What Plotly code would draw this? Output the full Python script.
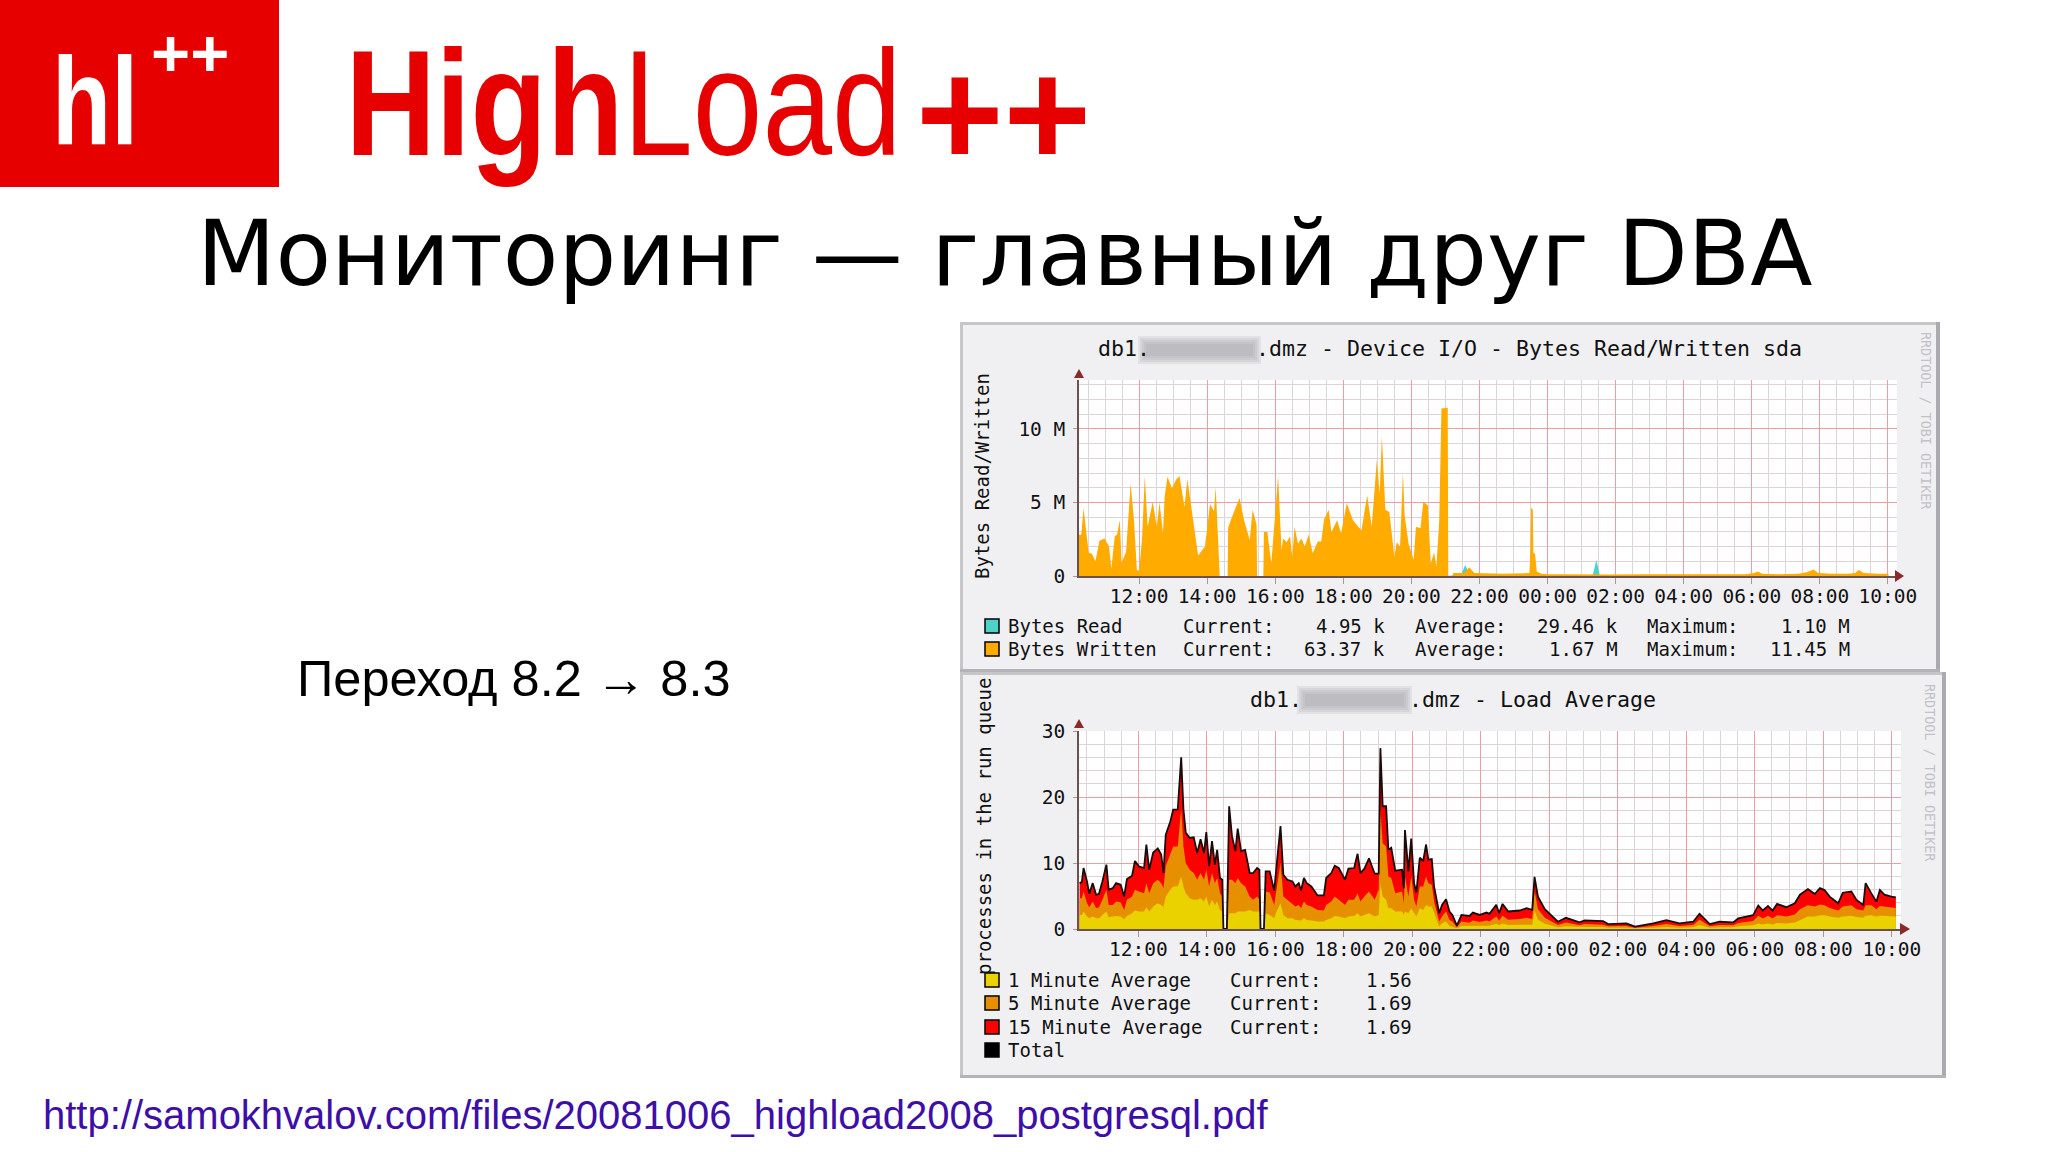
"""Slide: HighLoad++ monitoring slide with two rrdtool graphs (Device I/O, Load Average)."""

import pandas as pd
import plotly.graph_objects as go

W, H = 2048, 1152
BASE = pd.Timestamp("2008-10-05 12:00")
MONO = "DejaVu Sans Mono"

# ---------------------------------------------------------------------------
# Data: times are minutes after 12:00, written/read in M, load in run queue
# ---------------------------------------------------------------------------
WRITE_MIN = [
    -106, -102, -98, -93, -89, -83, -77, -70, -61, -53, -49, -43, -39, -34, -31, -23, -15, -9, -4, 0,
    5, 10, 15, 24, 31, 36, 42, 45, 50, 58, 65, 71, 80, 85, 95, 104, 116, 125, 132, 135,
    140, 142, 156, 157, 166, 177, 185, 195, 200, 207, 208, 219, 220, 226, 233, 239, 245, 251, 254, 260,
    266, 270, 274, 280, 286, 292, 299, 306, 315, 321, 326, 334, 339, 349, 356, 366, 377, 392, 402, 410,
    419, 424, 428, 434, 441, 450, 454, 460, 465, 468, 475, 484, 488, 496, 501, 509, 514, 520, 524, 529,
    533, 544, 545, 552, 554, 573, 582, 591, 640, 688, 689, 691, 694, 695, 698, 701, 709, 720, 777, 835,
    894, 952, 1011, 1069, 1084, 1091, 1098, 1128, 1163, 1177, 1189, 1197, 1221, 1250, 1262, 1269, 1277, 1303, 1321,
]
WRITE_M = [
    2.8, 2.8, 4.6, 2.7, 1.6, 1.5, 1.0, 2.4, 2.55, 2.0, 0.5, 2.7, 2.8, 3.8, 0.9, 1.65, 6.25, 3.8, 0.4, 0.35,
    2.45, 6.8, 3.35, 5.05, 3.35, 5.0, 2.9, 5.4, 6.75, 5.95, 6.55, 6.8, 4.7, 6.6, 4.0, 1.4, 2.0, 4.9, 4.4, 6.05,
    1.8, 0, 0, 3.3, 4.25, 5.3, 3.8, 2.45, 4.5, 3.5, 0, 0, 3.0, 3.0, 0.85, 3.7, 6.8, 1.75, 2.55, 2.3,
    2.7, 1.3, 3.35, 2.2, 2.55, 2.0, 2.8, 1.55, 2.35, 2.35, 3.85, 4.5, 3.0, 3.8, 2.9, 4.95, 3.8, 3.1, 5.5, 3.35,
    7.9, 5.6, 9.5, 4.5, 4.35, 1.3, 2.3, 2.0, 7.0, 4.15, 2.2, 1.1, 3.35, 3.25, 5.05, 4.8, 0.85, 1.6, 0.65, 3.7,
    11.4, 11.45, 0, 0, 0.2, 0.2, 0.6, 0.2, 0.15, 0.2, 1.0, 4.65, 4.5, 1.6, 1.5, 0.3, 0.15, 0.12, 0.1, 0.1,
    0.12, 0.1, 0.12, 0.12, 0.2, 0.3, 0.15, 0.12, 0.15, 0.25, 0.45, 0.2, 0.15, 0.15, 0.2, 0.4, 0.2, 0.15, 0.15,
]
READ_MIN = [544, 552, 567, 575, 583, 795, 800, 806, 812, 1321]
READ_M = [0.02, 0.03, 0.05, 0.75, 0.05, 0.03, 0.1, 1.1, 0.03, 0.02]

LOAD_MIN = [
    -103, -99, -96, -90, -86, -80, -74, -69, -63, -56, -52, -45, -39, -31, -25, -20, -11, -6, 1, 10,
    14, 19, 26, 34, 40, 44, 48, 56, 61, 69, 75, 79, 83, 90, 97, 103, 109, 115, 119, 124,
    129, 134, 138, 143, 147, 149, 155, 159, 164, 170, 174, 180, 187, 195, 201, 208, 212, 214, 220, 223,
    230, 238, 242, 249, 254, 261, 270, 275, 281, 285, 290, 295, 303, 314, 325, 329, 338, 344, 351, 362,
    368, 378, 384, 389, 396, 404, 414, 421, 424, 428, 434, 438, 443, 450, 462, 465, 467, 473, 478, 483,
    487, 493, 499, 504, 508, 514, 518, 527, 532, 539, 545, 550, 558, 566, 580, 586, 598, 610, 615, 627,
    632, 638, 648, 668, 680, 690, 694, 700, 712, 729, 735, 749, 773, 782, 814, 823, 855, 870, 902, 925,
    948, 972, 983, 1001, 1018, 1042, 1051, 1077, 1086, 1094, 1103, 1111, 1119, 1135, 1150, 1159, 1173, 1185, 1194, 1202,
    1211, 1226, 1234, 1249, 1258, 1270, 1274, 1284, 1293, 1299, 1307, 1319, 1327,
]
LOAD_TOTAL = [
    6.95, 7.1, 9.24, 7.2, 5.33, 6.95, 5.18, 5.33, 7.2, 9.75, 5.94, 6.19, 6.95, 6.7, 4.92, 7.56, 8.07, 10.3, 9.49, 9.24,
    12.8, 8.98, 11.6, 12.2, 11.3, 8.48, 14.3, 16.3, 18.1, 18.1, 26.0, 18.1, 14.6, 13.8, 13.9, 11.5, 13.6, 11.5, 14.7, 9.49,
    13.3, 9.75, 12.0, 7.72, 7.46, 0, 0, 18.6, 14.06, 11.8, 15.2, 11.8, 12.0, 8.48, 8.48, 9.24, 8.98, 0, 0, 8.73,
    8.73, 5.79, 9.49, 15.6, 8.22, 7.46, 7.2, 6.45, 6.95, 5.84, 7.72, 6.95, 6.45, 5.08, 5.08, 7.72, 8.48, 9.59, 9.24, 7.46,
    9.14, 9.24, 11.4, 8.48, 9.14, 10.7, 8.38, 8.38, 27.4, 18.6, 18.6, 12.0, 12.3, 8.83, 8.98, 6.19, 15.0, 8.73, 13.7, 6.95,
    5.53, 10.8, 10.3, 12.8, 10.5, 10.6, 6.45, 2.39, 3.65, 4.52, 2.64, 2.13, 0.51, 2.13, 1.98, 2.49, 2.13, 2.49, 2.29, 3.65,
    2.39, 3.8, 2.65, 2.8, 3.15, 2.9, 7.9, 4.9, 3.0, 1.6, 1.1, 1.7, 1.0, 1.3, 1.2, 0.75, 0.85, 0.35, 0.85, 1.35,
    0.85, 1.1, 2.3, 0.75, 1.1, 1.0, 1.6, 2.1, 3.55, 2.8, 3.5, 2.8, 3.8, 3.3, 3.9, 5.2, 6.05, 5.3, 6.2, 5.9,
    4.9, 3.9, 5.5, 5.7, 4.4, 3.65, 6.95, 5.4, 4.15, 5.9, 5.2, 4.9, 4.8,
]
LOAD_5_TOP = [
    4.67, 4.67, 5.69, 3.9, 3.3, 4.16, 3.15, 3.3, 4.42, 5.94, 3.65, 3.65, 4.16, 4.0, 2.89, 4.42, 4.92, 5.94, 5.69, 5.43,
    6.95, 5.43, 6.95, 7.46, 6.95, 6.19, 9.49, 11.5, 12.5, 12.5, 18.1, 12.5, 10.0, 8.98, 8.48, 7.46, 8.48, 7.46, 8.98, 6.45,
    8.48, 6.95, 7.72, 5.43, 4.92, 0, 0, 7.46, 7.46, 6.95, 7.72, 6.95, 6.45, 4.92, 4.42, 4.92, 4.42, 0, 0, 5.69,
    5.53, 3.65, 6.19, 10.0, 4.92, 4.42, 3.9, 3.4, 3.65, 3.15, 4.16, 3.65, 3.4, 2.89, 2.79, 3.65, 4.16, 4.92, 4.42, 3.65,
    4.42, 4.42, 5.43, 4.16, 4.92, 5.69, 4.42, 5.94, 18.1, 13.0, 12.5, 7.97, 7.72, 5.43, 5.69, 3.91, 7.97, 4.92, 7.97, 4.42,
    3.4, 6.45, 6.45, 7.97, 6.95, 6.7, 4.16, 1.12, 1.88, 2.64, 1.37, 1.12, 0.25, 1.12, 0.96, 1.27, 1.07, 1.3, 1.15, 1.9,
    1.3, 2.0, 1.4, 1.5, 1.7, 1.5, 5.8, 3.0, 1.7, 0.9, 0.6, 1.0, 0.55, 0.75, 0.65, 0.4, 0.45, 0.2, 0.45, 0.75,
    0.45, 0.6, 1.4, 0.4, 0.6, 0.55, 0.9, 1.2, 2.0, 1.6, 2.0, 1.6, 2.1, 1.9, 2.2, 3.0, 3.6, 3.4, 3.7, 3.6,
    3.2, 2.8, 3.4, 3.6, 3.0, 2.8, 3.6, 3.6, 3.0, 3.5, 3.4, 3.2, 3.2,
]
LOAD_1_TOP = [
    2.13, 2.13, 2.64, 1.88, 1.62, 1.88, 1.62, 1.62, 2.13, 2.64, 1.78, 1.88, 1.98, 1.88, 1.47, 1.98, 2.39, 2.79, 2.64, 2.64,
    3.3, 2.64, 3.4, 3.91, 3.65, 3.3, 4.92, 5.94, 6.45, 6.45, 7.97, 6.45, 5.43, 4.67, 4.42, 4.42, 4.67, 4.16, 4.92, 3.4,
    4.42, 3.65, 4.16, 2.89, 2.64, 0, 0, 2.39, 2.39, 2.39, 2.64, 2.64, 2.64, 2.89, 2.64, 2.64, 2.64, 0, 0, 2.39,
    2.13, 1.62, 2.64, 3.91, 2.13, 1.62, 1.62, 1.37, 1.37, 1.27, 1.62, 1.37, 1.27, 1.12, 1.12, 1.37, 1.62, 1.98, 1.88, 1.62,
    1.88, 1.98, 2.39, 1.88, 2.13, 2.39, 1.88, 2.13, 6.95, 4.92, 4.42, 3.15, 3.15, 2.64, 2.64, 2.13, 2.64, 2.39, 3.15, 2.39,
    1.88, 3.15, 2.89, 3.65, 3.4, 3.4, 2.39, 0.36, 0.86, 1.12, 0.46, 0.36, 0.1, 0.46, 0.46, 0.56, 0.46, 0.56, 0.5, 0.8,
    0.55, 0.85, 0.6, 0.65, 0.7, 0.65, 2.8, 1.4, 0.8, 0.4, 0.25, 0.4, 0.25, 0.3, 0.3, 0.2, 0.2, 0.1, 0.2, 0.3,
    0.2, 0.25, 0.6, 0.2, 0.25, 0.25, 0.4, 0.55, 0.85, 0.7, 0.85, 0.7, 0.9, 0.85, 1.0, 1.4, 1.9, 1.9, 2.1, 2.1,
    1.9, 1.7, 1.9, 2.0, 1.8, 1.7, 2.0, 2.1, 1.9, 2.0, 2.0, 1.9, 1.9,
]

X_TICK_START = "2008-10-05 12:00"
IO_TICKS = [0, 5, 10]
IO_TICK_TEXT = ["0", "5 M", "10 M"]
LOAD_TICKS = [0, 10, 20, 30]

IO_LEGEND = [
    ("Bytes Read", "#4CD2C8", "4.95 k", "29.46 k", "1.10 M"),
    ("Bytes Written", "#FFAB00", "63.37 k", "1.67 M", "11.45 M"),
]
LOAD_LEGEND = [
    ("1 Minute Average", "#EAD200", "1.56"),
    ("5 Minute Average", "#E69000", "1.69"),
    ("15 Minute Average", "#FF0000", "1.69"),
    ("Total", "#000000", None),
]

# ---------------------------------------------------------------------------
# Pixel helpers
# ---------------------------------------------------------------------------
MAJOR_GRID = "#EE9CA6"
MINOR_GRID = "#DDD3D8"
AXIS_COLOR = "#6A5252"
ARROW_COLOR = "#8A2A2A"
LOGO_RED = "#E60000"

# Squeeze the logo words: no narrow font is installed
NARROW_TEXT = """
var widths = {'HighLoad': 556, 'hl': 86};
document.querySelectorAll('text.annotation-text').forEach(function (t) {
    if (widths[t.textContent]) {
        t.setAttribute('textLength', widths[t.textContent]);
        t.setAttribute('lengthAdjust', 'spacingAndGlyphs');
    }
});
document.body.style.margin = '0';
"""


def px(x):
    return x / W


def py(y):
    return 1 - y / H


def times(minutes):
    return [(BASE + pd.Timedelta(minutes=m)).strftime("%Y-%m-%d %H:%M:%S") for m in minutes]


annotations = []
shapes = []


def label(x, y, text, size=19, color="#111111", family=MONO, anchor="left", angle=0):
    annotations.append(dict(
        x=px(x), y=py(y), xref="paper", yref="paper", text=text, showarrow=False,
        xanchor=anchor, yanchor="middle", textangle=angle, borderpad=0,
        font=dict(size=size, color=color, family=family),
    ))


def box(x0, y0, x1, y1, fill, line=None, line_width=0):
    shapes.append(dict(
        type="rect", xref="paper", yref="paper", layer="below",
        x0=px(x0), x1=px(x1), y0=py(y1), y1=py(y0), fillcolor=fill,
        line=dict(color=line or fill, width=line_width),
    ))


def triangle(points):
    path = "M " + " L ".join(f"{px(x)} {py(y)}" for x, y in points) + " Z"
    shapes.append(dict(type="path", xref="paper", yref="paper", path=path,
                       fillcolor=ARROW_COLOR, line=dict(width=0)))


def panel(x0, y0, x1, y1):
    box(x0, y0, x1, y1, "#F0F0F3")
    box(x0, y0, x1, y0 + 3, "#C6C6C8")
    box(x0, y0, x0 + 3, y1, "#C6C6C8")
    box(x1 - 4, y0, x1, y1, "#ABABAF")
    box(x0, y1 - 3, x1, y1, "#B4B4B8")


def blur_blob(x0, y0, x1, y1):
    for inset in (0, 2, 4, 6, 8):
        box(x0 + inset, y0 + inset, x1 - inset, y1 - inset, "rgba(150,150,155,0.15)")


def x_axis(domain, anchor, minutes_range):
    return dict(
        domain=domain, anchor=anchor, type="date", range=times(minutes_range), automargin=False,
        tick0=X_TICK_START, dtick=7200000, tickformat="%H:%M", tickangle=0,
        showgrid=True, gridcolor=MAJOR_GRID, gridwidth=1,
        minor=dict(dtick=1800000, tick0=X_TICK_START, showgrid=True, gridcolor=MINOR_GRID, gridwidth=1),
        ticks="outside", ticklen=6, tickcolor="#A89898",
        tickfont=dict(family=MONO, size=19.5, color="#111111"),
        ticklabelstandoff=-4,
        showline=True, linecolor=AXIS_COLOR, linewidth=1.5, zeroline=False,
    )


def y_axis(domain, anchor, top, tickvals, ticktext, minor_step):
    return dict(
        domain=domain, anchor=anchor, range=[0, top], tickmode="array", automargin=False,
        tickvals=tickvals, ticktext=ticktext,
        showgrid=True, gridcolor=MAJOR_GRID, gridwidth=1,
        minor=dict(dtick=minor_step, tick0=0, showgrid=True, gridcolor=MINOR_GRID, gridwidth=1),
        ticks="outside", ticklen=4, tickcolor="#A89898",
        tickfont=dict(family=MONO, size=19.5, color="#111111"),
        ticklabelstandoff=4,
        showline=True, linecolor=AXIS_COLOR, linewidth=1.5, zeroline=False,
    )


fig = go.Figure()

# ---------------------------------------------------------------------------
# Slide furniture
# ---------------------------------------------------------------------------
box(0, 0, 279, 187, LOGO_RED)
panel(960, 322, 1940, 672)
panel(960, 672, 1946, 1078)
box(1079, 380, 1897, 576, "#FFFFFF")
box(1079, 731, 1901, 929, "#FFFFFF")
blur_blob(1138, 336, 1261, 364)
blur_blob(1297, 686, 1412, 714)

label(95, 101, "<b>hl</b>", size=124, color="#FFFFFF", family="Liberation Sans", anchor="center")
label(150, 53, "<b>++</b>", size=67, color="#FFFFFF", family="Liberation Sans")
label(623, 103, "<b>High</b>Load", size=150, color=LOGO_RED, family="Liberation Sans", anchor="center")
label(915, 114, "<b>++</b>", size=150, color=LOGO_RED, family="Liberation Sans")
label(1004, 253, "Мониторинг — главный друг DBA", size=91, color="#000000", family="DejaVu Sans", anchor="center")
label(514, 678, "Переход 8.2 → 8.3", size=50.5, color="#000000", family="Liberation Sans", anchor="center")
label(42, 1115, "http://samokhvalov.com/files/20081006_highload2008_postgresql.pdf",
      size=40, color="#3D0EA8", family="Liberation Sans")

# ---------------------------------------------------------------------------
# Device I/O graph
# ---------------------------------------------------------------------------
fig.add_trace(go.Scatter(
    x=times(READ_MIN), y=READ_M, mode="lines", fill="tozeroy",
    line=dict(width=0), fillcolor="#4CD2C8", xaxis="x", yaxis="y", hoverinfo="skip",
))
fig.add_trace(go.Scatter(
    x=times(WRITE_MIN), y=WRITE_M, mode="lines", fill="tozeroy",
    line=dict(width=0), fillcolor="#FFAB00", xaxis="x", yaxis="y", hoverinfo="skip",
))
label(1097, 349, "db1.", size=21.6)
label(1255, 349, ".dmz - Device I/O - Bytes Read/Written sda", size=21.6)
label(982, 476, "Bytes Read/Written", size=19, anchor="center", angle=-90)
label(1925, 421, "RRDTOOL / TOBI OETIKER", size=13.4, color="#C2C2C6", anchor="center", angle=90)
triangle([(1074, 378), (1084, 378), (1079, 369)])
triangle([(1895, 570), (1895, 582), (1904, 576)])

for row, (name, color, cur, avg, peak) in zip((626, 649), IO_LEGEND):
    box(985, row - 7, 999, row + 7, color, "#000000", 1.5)
    label(1007, row, name)
    label(1182, row, "Current:")
    label(1386, row, cur, anchor="right")
    label(1414, row, "Average:")
    label(1619, row, avg, anchor="right")
    label(1646, row, "Maximum:")
    label(1851, row, peak, anchor="right")

# ---------------------------------------------------------------------------
# Load Average graph
# ---------------------------------------------------------------------------
for top, color in ((LOAD_TOTAL, "#FF0000"), (LOAD_5_TOP, "#E69000"), (LOAD_1_TOP, "#EAD200")):
    fig.add_trace(go.Scatter(
        x=times(LOAD_MIN), y=top, mode="lines", fill="tozeroy",
        line=dict(width=0), fillcolor=color, xaxis="x2", yaxis="y2", hoverinfo="skip",
    ))
fig.add_trace(go.Scatter(
    x=times(LOAD_MIN), y=LOAD_TOTAL, mode="lines",
    line=dict(width=1.8, color="#1A0A0A"), xaxis="x2", yaxis="y2", hoverinfo="skip",
))
label(1249, 699, "db1.", size=21.6)
label(1408, 699, ".dmz - Load Average", size=21.6)
label(984, 827, "processes in the run queue", size=19, anchor="center", angle=-90)
label(1930, 773, "RRDTOOL / TOBI OETIKER", size=13.4, color="#C2C2C6", anchor="center", angle=90)
triangle([(1074, 728), (1084, 728), (1079, 719)])
triangle([(1900, 923), (1900, 935), (1910, 929)])

for row, (name, color, cur) in zip((980, 1003, 1027, 1050), LOAD_LEGEND):
    box(985, row - 7, 999, row + 7, color, "#000000", 1.5)
    label(1007, row, name)
    if cur:
        label(1229, row, "Current:")
        label(1413, row, cur, anchor="right")

fig.update_layout(
    width=W, height=H, margin=dict(l=0, r=0, t=0, b=0, pad=0),
    paper_bgcolor="#FFFFFF", plot_bgcolor="rgba(0,0,0,0)",
    showlegend=False, hovermode=False,
    shapes=shapes, annotations=annotations,
    xaxis=x_axis([px(1079), px(1897)], "y", [-106, 1336]),
    yaxis=y_axis([py(576), py(380)], "x", 13.33, IO_TICKS, IO_TICK_TEXT, 1),
    xaxis2=x_axis([px(1079), px(1901)], "y2", [-104, 1336]),
    yaxis2=y_axis([py(929), py(731)], "x2", 30, LOAD_TICKS, [str(v) for v in LOAD_TICKS], 2),
)

fig.write_html("out.html", config=dict(displayModeBar=False), post_script=NARROW_TEXT)
